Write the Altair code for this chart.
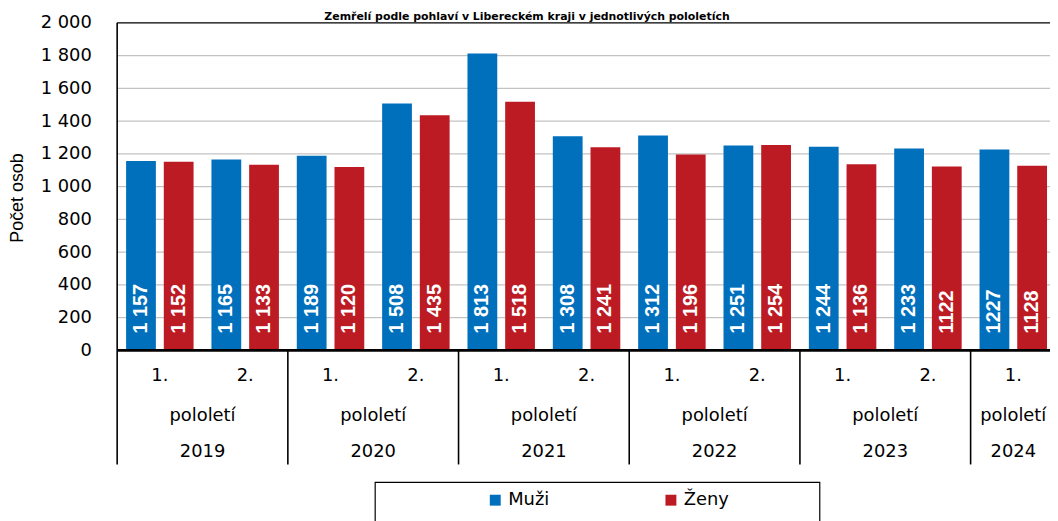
import altair as alt
import pandas as pd

title_text = "Zemřelí podle pohlaví v Libereckém kraji v jednotlivých pololetích"
years = ["2019", "2019", "2020", "2020", "2021", "2021", "2022", "2022", "2023", "2023", "2024"]
halves = ["1.", "2.", "1.", "2.", "1.", "2.", "1.", "2.", "1.", "2.", "1."]
muzi = [1157, 1165, 1189, 1508, 1813, 1308, 1312, 1251, 1244, 1233, 1227]
zeny = [1152, 1133, 1120, 1435, 1518, 1241, 1196, 1254, 1136, 1122, 1128]
muzi_labels = ["1 157", "1 165", "1 189", "1 508", "1 813", "1 308", "1 312", "1 251", "1 244", "1 233", "1227"]
zeny_labels = ["1 152", "1 133", "1 120", "1 435", "1 518", "1 241", "1 196", "1 254", "1 136", "1122", "1128"]
sexes = ["Muži", "Ženy"]
colors = ["#0070BD", "#BD1B24"]
y_ticks = [0, 200, 400, 600, 800, 1000, 1200, 1400, 1600, 1800, 2000]

periods = [f"{y}-{h}" for y, h in zip(years, halves)]

rows = []
for i, p in enumerate(periods):
    rows.append({"period": p, "year": years[i], "half": halves[i], "sex": sexes[0],
                 "value": muzi[i], "label": muzi_labels[i]})
    rows.append({"period": p, "year": years[i], "half": halves[i], "sex": sexes[1],
                 "value": zeny[i], "label": zeny_labels[i]})
df = pd.DataFrame(rows)

cat = pd.DataFrame({"period": periods, "year": years, "half": halves})
cat["n"] = cat.groupby("year")["year"].transform("count")
cat["first"] = ~cat["year"].duplicated()
cat["pol"] = "pololetí"

HFONT = "DejaVu Sans"
VFONT = "Liberation Sans"
FS = 18
W = 940
XR = 946
xscale = alt.Scale(domain=periods, paddingInner=0, paddingOuter=0, rangeMax=XR)
xoff_scale = alt.Scale(domain=sexes, paddingInner=0.21, paddingOuter=0.237)
yscale = alt.Scale(domain=[0, 2000])
y_axis = alt.Axis(title="Počet osob", values=y_ticks,
                  labelExpr="replace(format(datum.value, ','), ',', ' ')",
                  ticks=False, domain=False, grid=False, labelPadding=26, labelOverlap=False,
                  labelFontSize=FS, labelFont=HFONT,
                  titleFont=VFONT, titleFontSize=18, titleFontWeight="normal",
                  labelColor="black", titleColor="black",
                  titleX=-100, titleY=176, titleBaseline="middle", titleAlign="center",
                  titleAngle=270)

base = alt.Chart(df)

grid = alt.Chart(pd.DataFrame({"t": y_ticks[1:-1]})).mark_rule(
    color="#c3c3c3", strokeWidth=1.3).encode(
    y=alt.Y("t:Q", scale=yscale, axis=y_axis), x=alt.value(0), x2=alt.value(XR))
top_frame = alt.Chart(pd.DataFrame({"t": y_ticks[-1:]})).mark_rule(
    color="black", strokeWidth=1.2).encode(
    y=alt.Y("t:Q", scale=yscale, axis=y_axis), x=alt.value(0), x2=alt.value(XR))

bars = base.mark_bar().encode(
    x=alt.X("period:N", scale=xscale, axis=None),
    xOffset=alt.XOffset("sex:N", scale=xoff_scale),
    y=alt.Y("value:Q", scale=yscale, axis=y_axis),
    color=alt.Color("sex:N", scale=alt.Scale(domain=sexes, range=colors),
                    legend=alt.Legend(orient="none", legendX=372, legendY=472,
                                      direction="horizontal", title=None,
                                      symbolType="square", symbolSize=121,
                                      symbolStrokeWidth=0, labelFontSize=FS,
                                      labelFont=HFONT, labelColor="black",
                                      columnPadding=113, labelOffset=4, padding=0)),
)

labels = base.mark_text(angle=270, align="left", baseline="middle", color="white",
                        fontWeight="bold", fontSize=20, font=VFONT, dx=17).encode(
    x=alt.X("period:N", scale=xscale, axis=None),
    xOffset=alt.XOffset("sex:N", scale=xoff_scale),
    y=alt.YDatum(0, scale=yscale, axis=y_axis),
    text="label:N",
)

baseline_rule = alt.Chart(pd.DataFrame({"v": y_ticks[:1]})).mark_rule(
    color="black", strokeWidth=2.8).encode(
    y=alt.Y("v:Q", scale=yscale, axis=y_axis), x=alt.value(0), x2=alt.value(XR))

catc = alt.Chart(cat)
vrules = catc.transform_filter("datum.first && datum.period != '2019-1.'").mark_rule(
    color="black", strokeWidth=1.6).encode(
    x=alt.X("period:N", scale=xscale, bandPosition=0, axis=None),
    y=alt.value(330), y2=alt.value(445),
)
left_border = catc.transform_filter("datum.period == '2019-1.'").mark_rule(
    color="black", strokeWidth=1.6).encode(
    x=alt.X("period:N", scale=xscale, bandPosition=0, axis=None),
    y=alt.value(0), y2=alt.value(445),
)
half_text = catc.mark_text(fontSize=FS, font=HFONT, baseline="middle").encode(
    x=alt.X("period:N", scale=xscale, axis=None),
    y=alt.value(356), text="half:N",
)
pol_full = catc.transform_filter("datum.first && datum.n == 2").mark_text(
    fontSize=FS, font=HFONT, baseline="middle").encode(
    x=alt.X("period:N", scale=xscale, bandPosition=1, axis=None),
    y=alt.value(396), text="pol:N",
)
year_full = catc.transform_filter("datum.first && datum.n == 2").mark_text(
    fontSize=FS, font=HFONT, baseline="middle").encode(
    x=alt.X("period:N", scale=xscale, bandPosition=1, axis=None),
    y=alt.value(432), text="year:N",
)
pol_single = catc.transform_filter("datum.n == 1").mark_text(
    fontSize=FS, font=HFONT, baseline="middle").encode(
    x=alt.X("period:N", scale=xscale, bandPosition=0.5, axis=None),
    y=alt.value(396), text="pol:N",
)
year_single = catc.transform_filter("datum.n == 1").mark_text(
    fontSize=FS, font=HFONT, baseline="middle").encode(
    x=alt.X("period:N", scale=xscale, bandPosition=0.5, axis=None),
    y=alt.value(432), text="year:N",
)

one = alt.Chart(pd.DataFrame({"t": [title_text]}))
legend_box = one.mark_rect(fill="white", stroke="black", strokeWidth=1.2).encode(
    x=alt.value(260), x2=alt.value(708), y=alt.value(463), y2=alt.value(540))
title_mark = one.mark_text(fontSize=11, fontWeight="bold", font=HFONT, align="center",
                           baseline="alphabetic").encode(
    x=alt.value(413), y=alt.value(-3), text="t:N")

chart = alt.layer(
    grid, bars, labels, top_frame, baseline_rule, vrules, left_border, half_text,
    pol_full, year_full, pol_single, year_single, legend_box, title_mark
).properties(
    width=W, height=330,
    padding={"left": 110, "top": 13, "right": 0, "bottom": 170},
    autosize=alt.AutoSizeParams(type="none"),
).configure(font=HFONT).configure_view(strokeWidth=0
).configure_text(color="black")

chart.save("out.html", embed_options={"renderer": "svg", "actions": False})
